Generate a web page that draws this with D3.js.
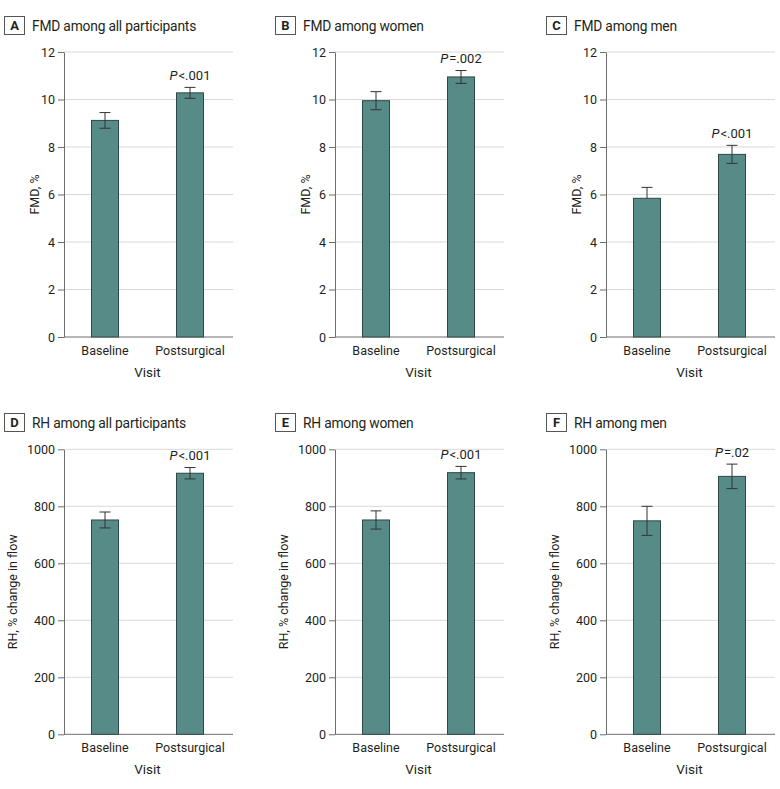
<!DOCTYPE html>
<html>
<head>
<meta charset="utf-8">
<script src="https://cdn.jsdelivr.net/npm/d3@7"></script>
<style>
  html, body { margin: 0; padding: 0; background: #fff; }
  svg { display: block; font-family: Roboto, "Noto Sans", sans-serif; }
</style>
</head>
<body>
<svg id="chart" width="780" height="789"></svg>
<script>
// ---- data ----
const panelLetters = ["A", "B", "C", "D", "E", "F"];
const panelTitles = [
  "FMD among all participants", "FMD among women", "FMD among men",
  "RH among all participants", "RH among women", "RH among men"
];
const yLabels = ["FMD, %", "FMD, %", "FMD, %",
  "RH, % change in flow", "RH, % change in flow", "RH, % change in flow"];
const visits = ["Baseline", "Postsurgical"];
const fmdTicks = [0, 2, 4, 6, 8, 10, 12];
const rhTicks = [0, 200, 400, 600, 800, 1000];
const baselineMeans = [9.12, 9.95, 5.84, 752, 752, 749];
const baselineErrUp = [0.33, 0.38, 0.46, 28, 32, 51];
const baselineErrDown = [0.33, 0.38, 0, 28, 32, 51];
const postMeans = [10.28, 10.95, 7.69, 916, 918, 905];
const postErr = [0.23, 0.27, 0.38, 20, 22, 43];
const pLabels = ["<.001", "=.002", "<.001", "<.001", "<.001", "=.02"];

// ---- layout ----
const svg = d3.select("#chart");
const axisX = [64, 335, 606];
const plotW = 169;
const rows = [
  { top: 52, bottom: 337, ticks: fmdTicks, titleY: 16, yTitleOff: -25 },
  { top: 449.3, bottom: 734.3, ticks: rhTicks, titleY: 413, yTitleOff: -47 }
];
const barW = 27;
const barFill = "#568b88";
const barStroke = "#2e4847";
const textColor = "#231f20";

panelLetters.forEach((letter, i) => {
  const row = rows[Math.floor(i / 3)];
  const col = i % 3;
  const x0 = axisX[col];
  const g = svg.append("g").attr("transform", `translate(${x0},0)`);

  const y = d3.scaleLinear()
    .domain([0, d3.max(row.ticks)])
    .range([row.bottom, row.top]);
  const x = d3.scalePoint().domain(visits).range([41, 126]);

  // title with letter box
  const tg = svg.append("g").attr("transform", `translate(${x0 - 60},${row.titleY})`);
  tg.append("rect").attr("x", 0.5).attr("y", 0.5).attr("width", 20).attr("height", 18)
    .attr("fill", "#fff").attr("stroke", "#555").attr("stroke-width", 1);
  tg.append("text").attr("x", 10.5).attr("y", 14.2).attr("text-anchor", "middle")
    .attr("font-weight", "bold").attr("font-size", 13).attr("fill", textColor).text(letter);
  tg.append("text").attr("x", 28).attr("y", 14.5).attr("font-size", 13.8)
    .attr("letter-spacing", -0.2)
    .attr("fill", textColor).text(panelTitles[i]);

  // gridlines
  g.append("g").selectAll("line").data(row.ticks.filter(t => t > 0)).join("line")
    .attr("x1", 0).attr("x2", plotW)
    .attr("y1", d => y(d)).attr("y2", d => y(d))
    .attr("stroke", "#d9d9d9").attr("stroke-width", 1);

  // y axis
  const ya = g.append("g")
    .call(d3.axisLeft(y).tickValues(row.ticks).tickFormat(d3.format("d"))
      .tickSize(6).tickPadding(3).tickSizeOuter(0));
  ya.select(".domain").attr("stroke", "#6d6d6d");
  ya.selectAll(".tick line").attr("stroke", "#6d6d6d");
  ya.selectAll(".tick text").attr("font-size", 12.5).attr("fill", textColor)
    .attr("font-family", "Roboto, 'Noto Sans', sans-serif");

  // x axis baseline
  g.append("line").attr("x1", 0).attr("x2", plotW)
    .attr("y1", row.bottom).attr("y2", row.bottom)
    .attr("stroke", "#6d6d6d").attr("stroke-width", 1);

  // bars
  const vals = [
    { v: visits[0], m: baselineMeans[i], up: baselineErrUp[i], dn: baselineErrDown[i] },
    { v: visits[1], m: postMeans[i], up: postErr[i], dn: postErr[i] }
  ];
  g.selectAll("rect.bar").data(vals).join("rect").attr("class", "bar")
    .attr("x", d => x(d.v) - barW / 2)
    .attr("y", d => y(d.m))
    .attr("width", barW)
    .attr("height", d => y(0) - y(d.m))
    .attr("fill", barFill).attr("stroke", barStroke).attr("stroke-width", 1);

  // error bars
  const eb = g.selectAll("g.err").data(vals).join("g").attr("class", "err");
  eb.append("line")
    .attr("x1", d => x(d.v)).attr("x2", d => x(d.v))
    .attr("y1", d => y(d.m + d.up)).attr("y2", d => y(d.m - d.dn))
    .attr("stroke", "#333").attr("stroke-width", 1);
  eb.append("line")
    .attr("x1", d => x(d.v) - 5.5).attr("x2", d => x(d.v) + 5.5)
    .attr("y1", d => y(d.m + d.up)).attr("y2", d => y(d.m + d.up))
    .attr("stroke", "#333").attr("stroke-width", 1);
  eb.filter(d => d.dn > 0).append("line")
    .attr("x1", d => x(d.v) - 5.5).attr("x2", d => x(d.v) + 5.5)
    .attr("y1", d => y(d.m - d.dn)).attr("y2", d => y(d.m - d.dn))
    .attr("stroke", "#333").attr("stroke-width", 1);

  // P label
  const pt = g.append("text")
    .attr("x", x(visits[1])).attr("y", y(postMeans[i] + postErr[i]) - 7.5)
    .attr("text-anchor", "middle").attr("font-size", 13).attr("fill", textColor);
  pt.append("tspan").attr("font-style", "italic").text("P");
  pt.append("tspan").attr("dx", 1).text(pLabels[i]);

  // x tick labels
  g.selectAll("text.xt").data(visits).join("text").attr("class", "xt")
    .attr("x", d => x(d)).attr("y", row.bottom + 18)
    .attr("text-anchor", "middle").attr("font-size", 12.5).attr("fill", textColor)
    .text(d => d);

  // x axis title
  g.append("text").attr("x", (x(visits[0]) + x(visits[1])) / 2).attr("y", row.bottom + 40)
    .attr("text-anchor", "middle").attr("font-size", 13.5).attr("fill", textColor).text("Visit");

  // y axis title
  g.append("text")
    .attr("transform", `translate(${row.yTitleOff},${(row.top + row.bottom) / 2}) rotate(-90)`)
    .attr("text-anchor", "middle").attr("font-size", 12.5).attr("fill", textColor)
    .text(yLabels[i]);
});
</script>
</body>
</html>
